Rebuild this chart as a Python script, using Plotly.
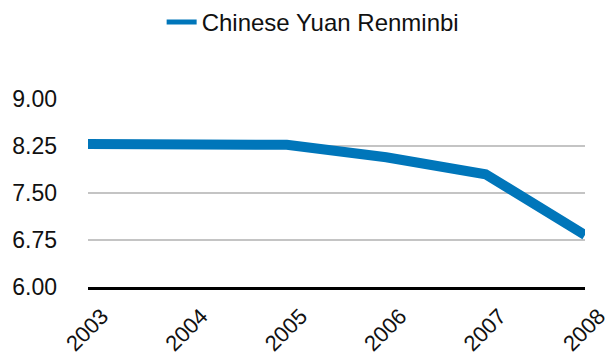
import plotly.graph_objects as go

years = [2003, 2004, 2005, 2006, 2007, 2008]
cny_per_usd = [8.28, 8.27, 8.27, 8.07, 7.80, 6.83]
y_ticks = [6.00, 6.75, 7.50, 8.25, 9.00]
series_name = "Chinese Yuan Renminbi"
line_color = "#0076BA"

fig = go.Figure()
fig.add_trace(go.Scatter(
    x=years, y=cny_per_usd, mode="lines", name=series_name,
    line=dict(color=line_color, width=10),
    cliponaxis=False, showlegend=False,
))
# thinner legend key for the series
fig.add_trace(go.Scatter(
    x=[None], y=[None], mode="lines", name=series_name,
    line=dict(color=line_color, width=5), showlegend=True,
))

font_family = "Liberation Sans, Arial, Helvetica, sans-serif"
fig.update_layout(
    width=606, height=356,
    margin=dict(l=88, r=21, t=99, b=69),
    paper_bgcolor="white", plot_bgcolor="white",
    font=dict(family=font_family, size=23, color="#111111"),
    showlegend=True,
    legend=dict(orientation="h", x=0.453, xanchor="center", y=1.0, yanchor="top",
                yref="container", font=dict(size=24), itemwidth=30),
    xaxis=dict(range=[2003, 2008], tickvals=years, ticktext=[str(y) for y in years],
               tickangle=-45, showgrid=False, zeroline=False, automargin=False,
               showline=True, linecolor="black", linewidth=2.5,
               ticks="", ticklabelstandoff=5, ticklabelshift=14,
               ticklabeloverflow="allow", tickfont=dict(size=22)),
    yaxis=dict(range=[6, 9], tickvals=y_ticks, ticktext=[f"{v:.2f}" for v in y_ticks],
               showgrid=True, gridcolor="#C4C4C4", gridwidth=2, automargin=False,
               zeroline=False, showline=False, ticks="",
               ticklabelstandoff=30, tickfont=dict(size=23)),
)
fig.write_html("out.html")
